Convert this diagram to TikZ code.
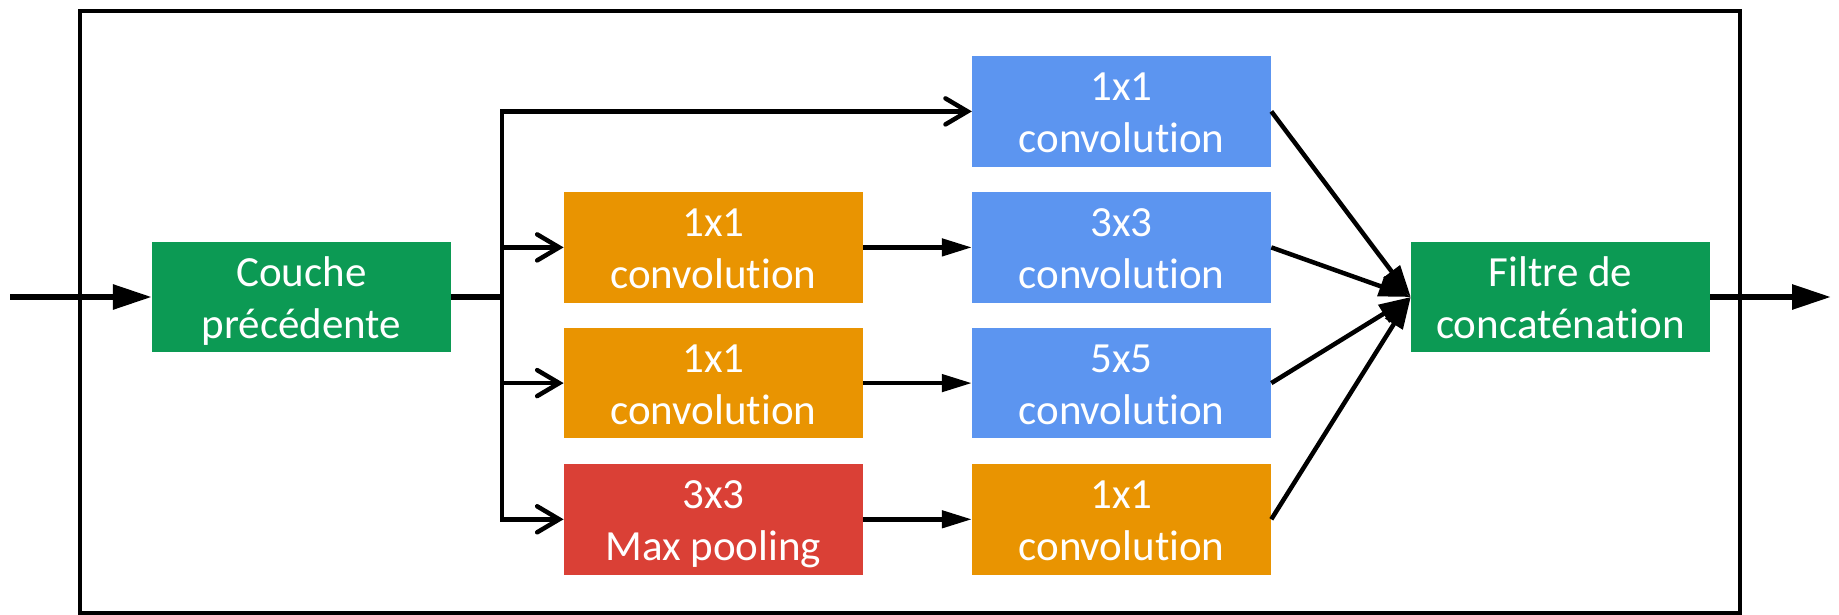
\documentclass[tikz,border=0pt]{standalone}
\usepackage{fontspec}
\setmainfont{Carlito}[Ligatures=NoCommon]
\usetikzlibrary{arrows.meta}
\definecolor{cgreen}{HTML}{0C9A54}
\definecolor{corange}{HTML}{E99401}
\definecolor{cblue}{HTML}{5C95F0}
\definecolor{cred}{HTML}{DA4036}
\newcommand\twol[2]{\raisebox{-11pt}[0pt][0pt]{\begin{tabular}{@{}c@{}}#1\\#2\end{tabular}}}
\tikzset{
  blk/.style={minimum width=299pt,minimum height=110.5pt,inner sep=0pt,text=white,
    font=\fontsize{43}{52}\selectfont},
  gbox/.style={blk,fill=cgreen},
  obox/.style={blk,fill=corange},
  bbox/.style={blk,fill=cblue},
  rbox/.style={blk,fill=cred},
  conn/.style={line width=4.5pt},
  barb/.style={conn,-{Straight Barb[length=22pt,width=26pt,line cap=round]}},
  tri/.style={conn,-{Triangle[length=30pt,width=17pt]}},
  diag/.style={conn,-{Triangle[length=32pt,width=20pt]}},
  big/.style={line width=6pt,-{Triangle[length=39pt,width=24pt]}},
}
\begin{document}
\begin{tikzpicture}[x=1pt,y=-1pt]
\useasboundingbox (0,0) rectangle (1839,615);
\draw[line width=4pt] (80.4,10.6) rectangle (1739.5,612.5);
\node[gbox] (prev) at (301.5,297) {\twol{Couche}{précédente}};
\node[bbox] (c11) at (1121.6,111.4) {\twol{1x1}{convolution}};
\node[obox] (r1) at (713.3,247.4) {\twol{1x1}{convolution}};
\node[bbox] (c33) at (1121.6,247.4) {\twol{3x3}{convolution}};
\node[obox] (r2) at (713.3,383.1) {\twol{1x1}{convolution}};
\node[bbox] (c55) at (1121.6,383.1) {\twol{5x5}{convolution}};
\node[rbox] (pool) at (713.3,519.3) {\twol{3x3}{Max pooling}};
\node[obox] (pc) at (1121.6,519.3) {\twol{1x1}{convolution}};
\node[gbox] (cat) at (1560.5,297) {\twol{Filtre de}{concaténation}};
\coordinate (in) at (10,297);
\coordinate (out) at (1831,297);
\coordinate (bt) at (502,111.4);
\coordinate (bm) at (502,297);
\coordinate (bb) at (502,519.3);
\draw[big] (in) -- (prev.west);
\draw[big] (cat.east) -- (out);
\draw[line width=6pt] (prev.east) -- (bm);
\draw[conn,line cap=rect] (bt) -- (bb);
\draw[barb] (bt) -- (c11.west);
\draw[barb] (bt |- r1) -- (r1.west);
\draw[barb] (bt |- r2) -- (r2.west);
\draw[barb] (bb) -- (pool.west);
\draw[tri] (r1.east) -- (c33.west);
\draw[tri] (r2.east) -- (c55.west);
\draw[tri] (pool.east) -- (pc.west);
\draw[diag] (c11.east) -- (cat.west);
\draw[diag] (c33.east) -- (cat.west);
\draw[diag] (c55.east) -- (cat.west);
\draw[diag] (pc.east) -- (cat.west);
\end{tikzpicture}
\end{document}
